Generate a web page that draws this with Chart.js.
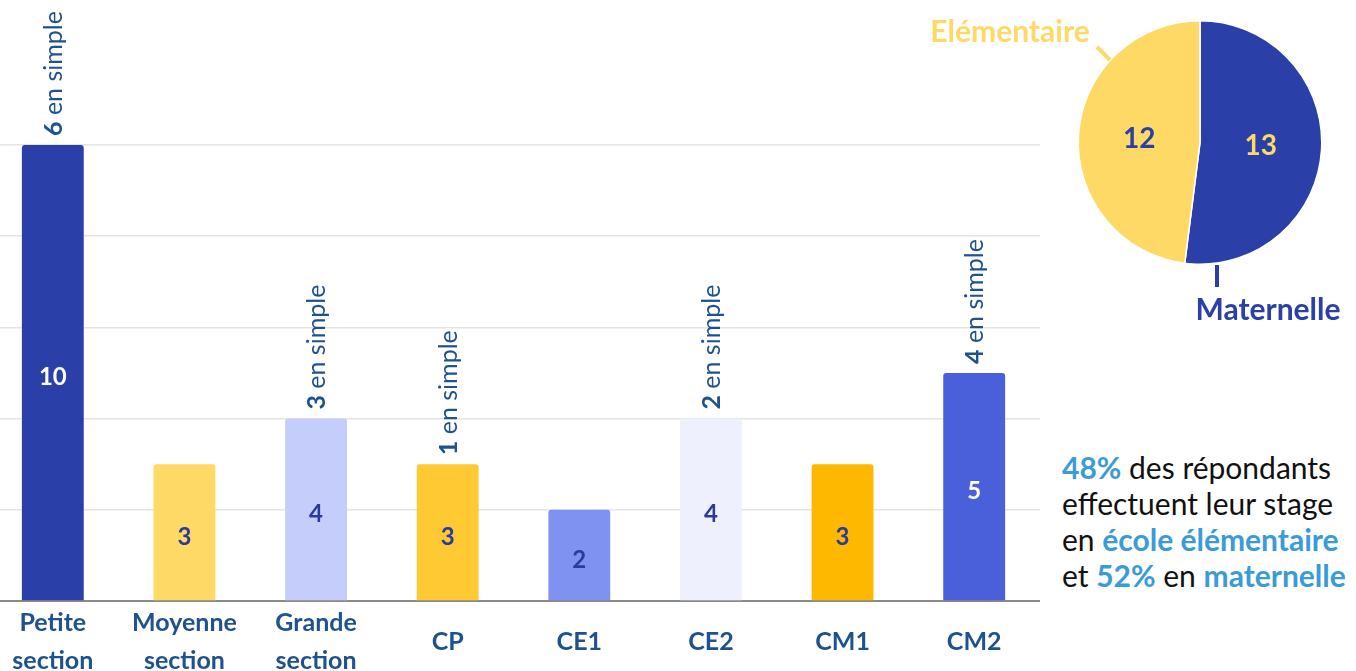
<!DOCTYPE html>
<html><head><meta charset="utf-8">
<script src="https://cdn.jsdelivr.net/npm/chart.js@4.4.0/dist/chart.umd.min.js"></script>
<style>
html,body{margin:0;padding:0;background:#fff;width:1356px;height:671px;overflow:hidden;position:relative;font-family:Lato,sans-serif}
#barWrap{position:absolute;left:-13px;top:0;width:1053px;height:671px}
#pieWrap{position:absolute;left:920px;top:0;width:436px;height:330px}
#note{position:absolute;left:1062px;top:449px;font-size:30px;line-height:36px;color:#111;white-space:nowrap}
.hl{color:#3A9BD9;font-weight:700}
</style></head><body>
<div id="barWrap"><canvas id="bar"></canvas></div>
<div id="pieWrap"><canvas id="pie"></canvas></div>
<div id="note"><span class="hl">48%</span> des répondants<br>effectuent leur stage<br>en <span class="hl">école élémentaire</span><br>et <span class="hl">52%</span> en <span class="hl">maternelle</span></div>
<script>
const categories = [["Petite","section"],["Moyenne","section"],["Grande","section"],["CP"],["CE1"],["CE2"],["CM1"],["CM2"]];
const counts = [10,3,4,3,2,4,3,5];
const simpleCounts = [6,null,3,1,null,2,null,4];
const yMax = 10;
const yStep = 2;
const pieLabels = ["Maternelle","Elémentaire"];
const pieValues = [13,12];

const barColors = ['#2A3FA8','#FFD966','#C5CEFB','#FFC933','#7F92F2','#EEF0FD','#FFB800','#4A5FDA'];
const valueColors = ['#ffffff','#2B3A9E','#2B3A9E','#2B3A9E','#2B3A9E','#2B3A9E','#2B3A9E','#ffffff'];
const labelBlue = '#1D5190';
const FONT = 'Lato';

const barLabels = {
  id:'barLabels',
  afterDatasetsDraw(chart){
    const ctx = chart.ctx;
    const meta = chart.getDatasetMeta(0);
    ctx.save();
    meta.data.forEach((el,i)=>{
      const x = el.x, top = el.y, base = el.base;
      ctx.fillStyle = valueColors[i];
      ctx.font = 'bold 24px ' + FONT;
      ctx.textAlign = 'center';
      ctx.textBaseline = 'middle';
      ctx.fillText(String(counts[i]), x, (top+base)/2 + 5);
      if (simpleCounts[i] != null){
        ctx.save();
        ctx.translate(x + 1, top - 9);
        ctx.rotate(-Math.PI/2);
        ctx.textAlign = 'left';
        ctx.textBaseline = 'middle';
        ctx.fillStyle = labelBlue;
        ctx.font = 'bold 25px ' + FONT;
        const n = String(simpleCounts[i]);
        ctx.fillText(n, 0, 0);
        const w = ctx.measureText(n).width;
        ctx.font = '25px ' + FONT;
        ctx.fillText(' en simple', w, 0);
        ctx.restore();
      }
    });
    const xs = chart.scales.x;
    ctx.fillStyle = labelBlue;
    ctx.font = 'bold 25px ' + FONT;
    ctx.textAlign = 'center';
    ctx.textBaseline = 'middle';
    categories.forEach((lines,i)=>{
      const x = xs.getPixelForValue(i);
      const lh = 38;
      const start = 642 - (lines.length-1)*lh/2;
      lines.forEach((t,j)=> ctx.fillText(t, x, start + j*lh));
    });
    ctx.restore();
  }
};

new Chart(document.getElementById('bar'), {
  type:'bar',
  data:{
    labels: categories.map(c=>c.join(' ')),
    datasets:[{
      data: counts,
      backgroundColor: barColors,
      borderRadius: 3,
      borderSkipped: 'bottom',
      barPercentage: 0.47,
      categoryPercentage: 1
    }]
  },
  options:{
    responsive:true, maintainAspectRatio:false, animation:false, devicePixelRatio:1,
    layout:{padding:{top:145,bottom:62,left:0,right:0}},
    plugins:{legend:{display:false},tooltip:{enabled:false}},
    scales:{
      x:{grid:{display:false},ticks:{display:false},border:{display:true,color:'#8a8a8a',width:2}},
      y:{min:0,max:yMax,ticks:{display:false,stepSize:yStep},grid:{color:'#e4e4e4',lineWidth:1.5,drawTicks:false},border:{display:false}}
    }
  },
  plugins:[barLabels]
});

const pieText = {
  id:'pieText',
  afterDatasetsDraw(chart){
    const ctx = chart.ctx;
    const meta = chart.getDatasetMeta(0);
    const numColors = ['#FFD966','#2A3FA8'];
    ctx.save();
    ctx.font = 'bold 28px ' + FONT;
    ctx.textAlign = 'center';
    ctx.textBaseline = 'middle';
    meta.data.forEach((el,i)=>{
      const p = el.tooltipPosition();
      ctx.fillStyle = numColors[i];
      ctx.fillText(String(pieValues[i]), p.x, p.y);
    });
    ctx.lineWidth = 4;
    ctx.strokeStyle = '#FFD966';
    ctx.beginPath(); ctx.moveTo(177,47); ctx.lineTo(190,60); ctx.stroke();
    ctx.strokeStyle = '#2A3FA8';
    ctx.beginPath(); ctx.moveTo(297,265); ctx.lineTo(297,287); ctx.stroke();
    ctx.font = 'bold 30px ' + FONT;
    ctx.fillStyle = '#FFD966';
    ctx.fillText(pieLabels[1], 90, 32);
    ctx.fillStyle = '#2A3FA8';
    ctx.fillText(pieLabels[0], 348, 310);
    ctx.restore();
  }
};

new Chart(document.getElementById('pie'), {
  type:'pie',
  data:{labels:pieLabels, datasets:[{data:pieValues, backgroundColor:['#2A3FA8','#FFD966'], borderColor:'#ffffff', borderWidth:1.5}]},
  options:{
    responsive:true, maintainAspectRatio:false, animation:false, devicePixelRatio:1,
    layout:{padding:{left:157,right:33,top:20,bottom:65}},
    plugins:{legend:{display:false},tooltip:{enabled:false}}
  },
  plugins:[pieText]
});
</script>
</body></html>
